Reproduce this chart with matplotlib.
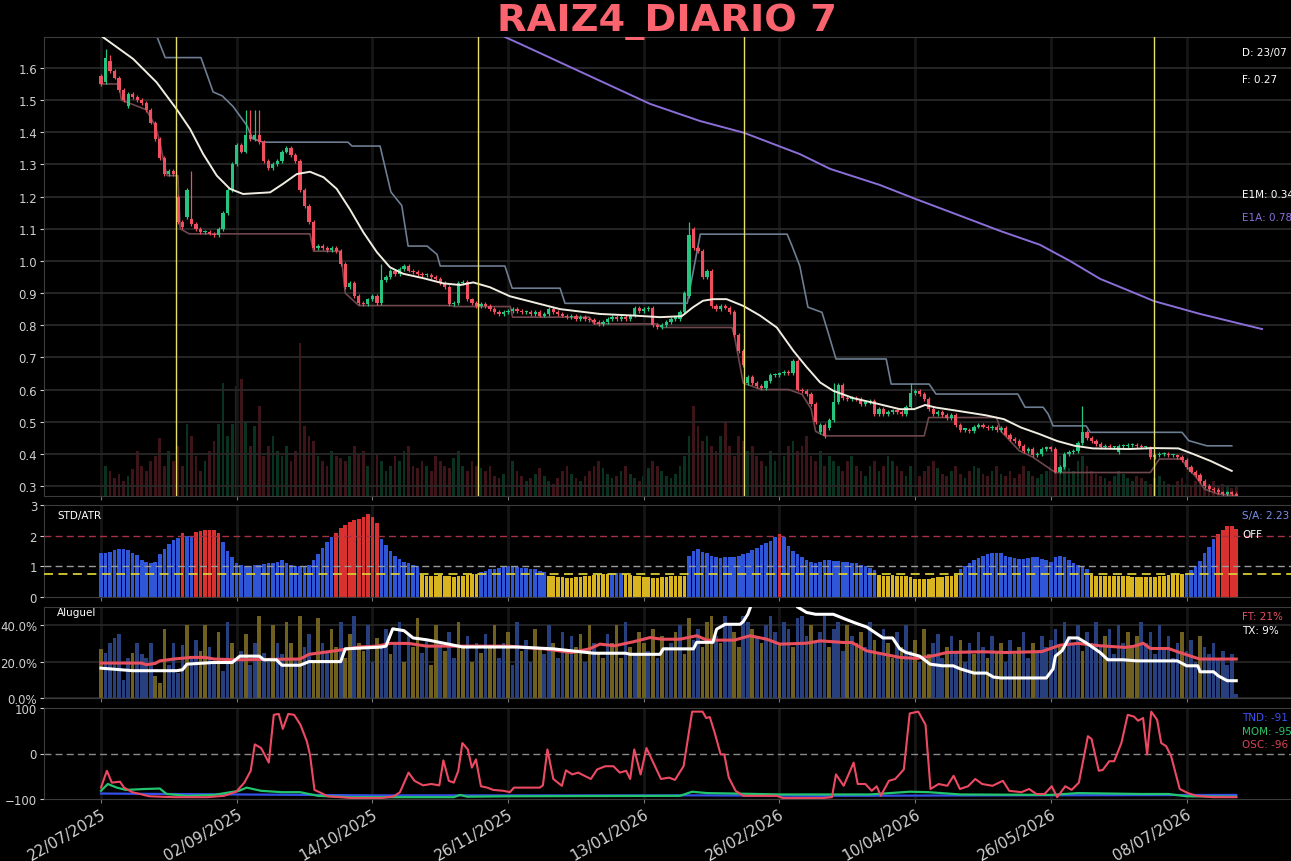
import numpy as np
import matplotlib
matplotlib.use('Agg')
import matplotlib.pyplot as plt
from matplotlib.ticker import PercentFormatter, FormatStrFormatter

# ---------------- data ----------------
date_ticks = [0, 30, 60, 90, 120, 150, 180, 210, 240]
date_labels = ['22/07/2025', '02/09/2025', '14/10/2025', '26/11/2025', '13/01/2026',
               '26/02/2026', '10/04/2026', '26/05/2026', '08/07/2026']

closes = [
    1.55, 1.63, 1.59, 1.57, 1.53, 1.50, 1.52, 1.51, 1.50, 1.49, 1.47, 1.43, 1.38, 1.32, 1.27, 1.28, 1.27,
    1.12, 1.105, 1.22, 1.115, 1.10, 1.09, 1.09, 1.085, 1.08, 1.10, 1.15, 1.22, 1.30, 1.36, 1.34, 1.39,
    1.38, 1.39, 1.37, 1.31, 1.29, 1.30, 1.31, 1.34, 1.35, 1.33, 1.31, 1.22, 1.17, 1.12, 1.04, 1.045,
    1.04, 1.035, 1.04, 1.03, 0.99, 0.92, 0.93, 0.89, 0.87, 0.865, 0.88, 0.89, 0.87, 0.94, 0.95, 0.97,
    0.96, 0.975, 0.985, 0.97, 0.965, 0.96, 0.955, 0.955, 0.95, 0.945, 0.93, 0.92, 0.865, 0.87, 0.93,
    0.935, 0.88, 0.87, 0.86, 0.865, 0.86, 0.85, 0.84, 0.835, 0.84, 0.845, 0.85, 0.845, 0.84, 0.84,
    0.835, 0.84, 0.83, 0.835, 0.85, 0.84, 0.835, 0.83, 0.825, 0.83, 0.82, 0.825, 0.82, 0.815, 0.81,
    0.805, 0.81, 0.82, 0.825, 0.82, 0.825, 0.82, 0.83, 0.855, 0.845, 0.85, 0.855, 0.80, 0.795, 0.80,
    0.81, 0.82, 0.82, 0.84, 0.90, 1.08, 1.04, 1.03, 0.95, 0.97, 0.86, 0.85, 0.86, 0.855, 0.84, 0.77,
    0.72, 0.675, 0.64, 0.62, 0.61, 0.605, 0.625, 0.645, 0.645, 0.65, 0.655, 0.65, 0.69, 0.60, 0.595,
    0.585, 0.555, 0.50, 0.49, 0.455, 0.505, 0.56, 0.615, 0.575, 0.57, 0.575, 0.57, 0.555, 0.56, 0.565,
    0.525, 0.54, 0.525, 0.53, 0.535, 0.53, 0.525, 0.545, 0.59, 0.595, 0.585, 0.57, 0.54, 0.525, 0.53,
    0.52, 0.51, 0.52, 0.49, 0.475, 0.475, 0.47, 0.485, 0.49, 0.485, 0.48, 0.485, 0.475, 0.48, 0.46,
    0.445, 0.44, 0.425, 0.41, 0.415, 0.395, 0.40, 0.415, 0.42, 0.415, 0.345, 0.36, 0.40, 0.405, 0.41,
    0.435, 0.467, 0.45, 0.44, 0.432, 0.422, 0.425, 0.42, 0.42, 0.425, 0.425, 0.428, 0.428, 0.425, 0.42,
    0.42, 0.39, 0.395, 0.40, 0.40, 0.395, 0.395, 0.39, 0.38, 0.36, 0.345, 0.335, 0.316, 0.30, 0.29,
    0.288, 0.28, 0.275, 0.28, 0.275, 0.27,
]
# opens where the bar did not open at the previous close
open_gaps = {0: 1.575, 1: 1.556, 2: 1.62, 6: 1.48, 17: 1.20, 19: 1.135, 20: 1.13, 130: 0.89,
             131: 1.10, 143: 0.62, 159: 0.467, 161: 0.48, 225: 0.405}
long_highs = {1: 1.66, 2: 1.64, 20: 1.28, 32: 1.47, 33: 1.47, 34: 1.47, 35: 1.47, 62: 0.99,
              130: 1.12, 162: 0.62, 179: 0.62, 217: 0.55}

volume = [
    20, 30, 25, 18, 22, 15, 20, 27, 45, 30, 25, 35, 40, 58, 30, 45, 35,
    50, 30, 72, 60, 40, 25, 35, 45, 55, 72, 113, 60, 72, 110, 117, 75, 50, 70, 90, 40, 50, 60, 45, 40, 50, 35, 45, 153,
    70, 60, 55, 40, 35, 30, 45, 40, 38, 35, 40, 50, 42, 45, 30, 40, 42, 35, 25, 30, 40, 35, 45, 50, 30, 28,
    35, 30, 25, 40, 35, 30, 28, 38, 45, 30, 25, 35, 30, 28,
    25, 30, 20, 18, 22, 30, 35, 25, 20, 15, 18, 22, 28, 20, 15, 12, 18, 25, 30, 22, 18, 15, 20, 25, 30, 35,
    28, 22, 18, 20, 25, 30, 22, 18, 15, 20, 28, 35, 30, 25, 20, 18, 22, 30, 40,
    60, 90, 70, 55, 60, 50, 45, 60, 75, 50, 40, 60, 55, 45, 50, 40, 35,
    30, 45, 35, 25, 40, 50, 55, 45, 50, 60, 40, 35, 45, 30, 40, 35, 30, 25, 35, 40, 30, 25, 20, 30, 35, 25,
    30, 40, 35, 30, 25, 20, 30, 25, 20, 25, 30, 35, 28, 22, 20, 25, 30, 22, 18, 25, 30, 28, 22, 20, 25, 30, 22,
    20, 25, 18, 22, 30, 25, 20, 18, 22, 25, 30, 35, 40, 30, 28, 25, 35, 40, 30, 25, 22, 20, 18, 15, 20, 25,
    22, 18, 15, 20, 18, 15, 12, 18, 20, 15, 12, 10, 15, 18, 12, 10, 15, 12, 10, 12, 15, 10, 12, 10, 8, 10,
]

# moving average (E1M) and long average (E1A), bands
ma_x = [0, 7.1, 12.3, 16.7, 19.7, 22.6, 25.6, 28.5, 31.4, 37.4, 40.3, 43.3, 46.2, 49.2, 52.1, 55, 58, 61,
        63.9, 66.8, 71.3, 75.7, 79.4, 82.3, 86, 90.4, 101.5, 110.3, 117.7, 123.6, 128.4, 130.9, 133.1,
        135.3, 138.3, 142, 145.7, 149.4, 153.1, 156, 159, 161.9, 166.4, 171.9, 176.6, 179.8, 182.2, 184.6,
        189.3, 195.6, 199.6, 203.4, 207.4, 211.4, 215.3, 219.3, 227.2, 232.7, 238.2, 241.4, 245.3, 250]
ma_y = [1.70, 1.628, 1.555, 1.472, 1.41, 1.332, 1.265, 1.224, 1.208, 1.213, 1.24, 1.27, 1.277, 1.26,
        1.224, 1.161, 1.089, 1.027, 0.98, 0.96, 0.946, 0.93, 0.925, 0.933, 0.918, 0.89, 0.85, 0.835,
        0.83, 0.825, 0.828, 0.856, 0.876, 0.881, 0.881, 0.86, 0.83, 0.793, 0.72, 0.67, 0.622, 0.596,
        0.573, 0.555, 0.539, 0.539, 0.552, 0.544, 0.534, 0.52, 0.508, 0.482, 0.462, 0.44, 0.425, 0.417,
        0.415, 0.418, 0.417, 0.40, 0.378, 0.347]
e1a_x = [84, 89.3, 92.6, 110.3, 121.4, 132.4, 142.2, 154.5, 161.2, 172.2, 180, 190, 198.8, 207.6, 214.2,
         220.9, 227.5, 232.8, 243, 256.7]
e1a_y = [1.75, 1.696, 1.675, 1.56, 1.488, 1.435, 1.398, 1.332, 1.286, 1.236, 1.193, 1.14, 1.093, 1.05,
         1.0, 0.944, 0.906, 0.875, 0.835, 0.788]
up_x = [12.4, 14.2, 22.1, 24.8, 26.8, 29.2, 32.3, 33.5, 35.9, 54.6, 55.5, 61.7, 64.1, 66.5, 67.9, 72.1,
        74.3, 75, 89.3, 90.9, 101.5, 102.6, 129.6, 132.5, 151.7, 152.8, 154.5, 156.3, 159.4, 160.7,
        162.5, 173.6, 174.7, 183.1, 184.6, 202.7, 204.3, 208.3, 209.4, 210.5, 217.8, 218.7, 239, 240.5,
        244.5, 250]
up_y = [1.696, 1.632, 1.632, 1.525, 1.513, 1.48, 1.42, 1.38, 1.369, 1.369, 1.357, 1.357, 1.214, 1.172,
        1.046, 1.046, 1.02, 0.984, 0.984, 0.915, 0.915, 0.868, 0.868, 1.083, 1.083, 1.046, 0.984, 0.856,
        0.84, 0.78, 0.695, 0.695, 0.617, 0.617, 0.586, 0.586, 0.545, 0.545, 0.524, 0.487, 0.487, 0.467,
        0.467, 0.441, 0.425, 0.425]
lo_x = [0, 4, 4.5, 10, 12, 13, 14, 14.6, 17, 17.5, 19.5, 46.2, 47, 53, 54, 57, 77.5, 78, 90.5, 91, 108,
        109, 123, 124, 139.5, 140, 142, 146, 152, 155, 157, 158, 160, 182, 183, 198, 199, 201, 203, 206,
        211, 232, 234, 239, 240, 242, 244, 247, 251]
lo_y = [1.55, 1.55, 1.50, 1.47, 1.42, 1.37, 1.30, 1.265, 1.265, 1.10, 1.084, 1.084, 1.03, 1.03, 0.90,
        0.861, 0.861, 0.858, 0.858, 0.825, 0.825, 0.804, 0.804, 0.793, 0.793, 0.77, 0.62, 0.60, 0.60,
        0.585, 0.54, 0.47, 0.456, 0.456, 0.513, 0.513, 0.47, 0.44, 0.41, 0.39, 0.342, 0.342, 0.384,
        0.384, 0.36, 0.33, 0.29, 0.275, 0.27]
event_lines = [16.6, 83.4, 142.2, 232.8]

# STD/ATR ratio
std_atr = [
    1.45, 1.45, 1.48, 1.52, 1.55, 1.55, 1.52, 1.45, 1.38, 1.2, 1.15, 1.1, 1.15, 1.4, 1.57, 1.73, 1.85,
    1.92, 2.1, 1.98, 2.0, 2.12, 2.15, 2.18, 2.2, 2.18, 2.1, 1.8, 1.5, 1.3, 1.1, 1.05, 1.02, 1.02, 1.05,
    1.05, 1.08, 1.1, 1.12, 1.15, 1.2, 1.1, 1.05, 1.0, 1.0, 1.0, 1.05, 1.2, 1.4, 1.6, 1.8, 1.95,
    2.1, 2.25, 2.35, 2.45, 2.5, 2.55, 2.6, 2.7, 2.6, 2.4,
    1.9, 1.7, 1.5, 1.35, 1.25, 1.15, 1.1, 1.05, 1.0,
    0.72, 0.7, 0.68, 0.7, 0.72, 0.7, 0.68, 0.66, 0.68, 0.7, 0.72, 0.74, 0.74,
    0.8, 0.85, 0.9, 0.92, 0.95, 0.98, 1.0, 1.0, 0.98, 0.96, 0.95, 0.92, 0.9, 0.85, 0.8,
    0.7, 0.68, 0.66, 0.64, 0.62, 0.62, 0.64, 0.66, 0.68, 0.7, 0.72, 0.74, 0.74, 0.74, 0.77, 0.78, 0.77,
    0.74, 0.72, 0.7, 0.68, 0.66, 0.65, 0.63, 0.62, 0.64, 0.66, 0.68, 0.69, 0.7, 0.7,
    1.35, 1.5, 1.55, 1.48, 1.42, 1.35, 1.3, 1.28, 1.3, 1.3, 1.32, 1.35, 1.4, 1.45, 1.52, 1.6, 1.68, 1.75,
    1.82, 1.95, 2.05, 1.95, 1.65, 1.5, 1.4, 1.3, 1.22, 1.15, 1.12, 1.15, 1.2, 1.2, 1.18, 1.18, 1.15, 1.15,
    1.12, 1.1, 1.05, 1.0, 0.95, 0.88,
    0.72, 0.7, 0.7, 0.72, 0.7, 0.68, 0.7, 0.65, 0.6, 0.6, 0.58, 0.6, 0.62, 0.64, 0.66, 0.68, 0.7, 0.72,
    0.9, 1.0, 1.1, 1.2, 1.28, 1.35, 1.4, 1.45, 1.45, 1.42, 1.35, 1.3, 1.28, 1.25, 1.25, 1.28, 1.32, 1.3,
    1.25, 1.2, 1.15, 1.3, 1.35, 1.3, 1.2, 1.1, 1.05, 1.0, 0.9,
    0.72, 0.7, 0.7, 0.69, 0.7, 0.69, 0.7, 0.7, 0.68, 0.66, 0.64, 0.64, 0.65, 0.64, 0.66, 0.68, 0.7, 0.72,
    0.74, 0.74, 0.74,
    0.76, 0.87, 1.0, 1.19, 1.44, 1.63, 1.9, 2.05, 2.2, 2.3, 2.3, 2.23,
]

# Aluguel (lending) bars, fraction, and bar colour code (y = yellow, b = blue)
aluguel = [
    0.27, 0.25, 0.30, 0.33, 0.35, 0.10, 0.22, 0.25, 0.30, 0.24, 0.22, 0.30, 0.12, 0.08, 0.38, 0.18, 0.30, 0.14, 0.29, 0.40, 0.22,
    0.32, 0.26, 0.40, 0.28, 0.20, 0.36, 0.15, 0.42, 0.30, 0.22, 0.26, 0.35, 0.18, 0.30, 0.45, 0.25, 0.20, 0.40, 0.30, 0.24, 0.42,
    0.30, 0.22, 0.45, 0.28, 0.35, 0.20, 0.44, 0.30, 0.25, 0.38, 0.28, 0.42, 0.22, 0.35, 0.45, 0.30, 0.26, 0.40, 0.20, 0.33, 0.28,
    0.38, 0.24, 0.30, 0.42, 0.20, 0.35, 0.28, 0.44, 0.25, 0.32, 0.18, 0.40, 0.30, 0.26, 0.36, 0.22, 0.42, 0.28, 0.34, 0.20, 0.30,
    0.25, 0.35, 0.28, 0.40, 0.22, 0.30, 0.36, 0.18, 0.42, 0.26, 0.32, 0.20, 0.38, 0.28, 0.24, 0.40, 0.30, 0.22, 0.36, 0.26, 0.34,
    0.28, 0.35, 0.20, 0.40, 0.30, 0.25, 0.22, 0.35, 0.30, 0.40, 0.22, 0.42, 0.28, 0.24, 0.36, 0.30, 0.26, 0.38, 0.22, 0.34, 0.28,
    0.30, 0.36, 0.40, 0.24, 0.44, 0.32, 0.38, 0.28, 0.42, 0.45, 0.34, 0.30, 0.45, 0.40, 0.36, 0.28, 0.45, 0.42, 0.38, 0.34, 0.30,
    0.40, 0.45, 0.36, 0.30, 0.42, 0.38, 0.28, 0.44, 0.45, 0.34, 0.40, 0.30, 0.36, 0.45, 0.28, 0.38, 0.42, 0.26, 0.40, 0.34, 0.30,
    0.36, 0.28, 0.42, 0.32, 0.24, 0.38, 0.30, 0.22, 0.36, 0.28, 0.40, 0.26, 0.32, 0.20, 0.38, 0.24, 0.30, 0.35, 0.22, 0.28, 0.34,
    0.26, 0.32, 0.20, 0.30, 0.24, 0.36, 0.28, 0.22, 0.34, 0.26, 0.30, 0.20, 0.32, 0.24, 0.28, 0.36, 0.22, 0.30, 0.26, 0.34, 0.28,
    0.32, 0.38, 0.28, 0.42, 0.34, 0.30, 0.40, 0.26, 0.36, 0.30, 0.42, 0.28, 0.34, 0.38, 0.24, 0.40, 0.30, 0.36, 0.28, 0.34, 0.42,
    0.30, 0.36, 0.24, 0.40, 0.28, 0.34, 0.22, 0.30, 0.36, 0.26, 0.32, 0.20, 0.34, 0.28, 0.24, 0.30, 0.22, 0.26, 0.18, 0.24, 0.02,
]
aluguel_kind = (
    'ybbbbbbybbbbyyybbbbyb'
    'byybbybbybbybbybbybby'
    'ybybbyybbyybyybyybbyb'
    'bybbybyybbyybybbyybyb'
    'ybyybbybbybbyybbybbyb'
    'yybybyybyyybybyybybyb'
    'bybyybbyyybybbyybbyby'
    'bbbybbybbbybbbybbbyby'
    'ybbybbyybybbybyybbbyb'
    'bybbybbybyybbyybbybbb'
    'bbybbbbybbbbybbbbyyyb'
    'bbbbbbbbybbbybbbbbbbb'
)

ft_x = [0, 9, 10, 12, 13, 16, 20, 23, 25, 30, 44, 46, 52, 57, 61, 64, 68, 72, 90, 98, 104, 108, 110.3,
        113.6, 116.2, 117.7, 121.4, 124, 128, 131.7, 134, 140, 143.5, 147.2, 150.1, 156, 159, 164.2, 166,
        169.3, 173, 176.6, 180.3, 184, 187, 195, 200, 208, 212, 216, 220.9, 226.4, 228.5, 230.4, 232, 236,
        238.5, 242.9, 251]
ft_y = [19.2, 19.2, 18.3, 19, 20.4, 21.4, 22.3, 22.3, 21.4, 21, 21.4, 24, 26, 28, 28.5, 30, 30, 28.5,
        28.5, 27, 25, 27, 29.6, 28.7, 30.1, 30.9, 33.2, 32.3, 32.3, 34.2, 31.8, 31.8, 34.2, 32.3, 29.6,
        30.1, 31.4, 30.5, 30.5, 25.9, 24.1, 22.3, 21.7, 23.2, 25, 25.4, 25, 25.5, 29, 30, 28.7, 27.8,
        28.5, 30.1, 27.2, 27.2, 25, 21.4, 21.4]
tx_x = [0, 7, 16.7, 18, 19, 24.8, 29, 30.7, 35, 36, 38.8, 40, 44, 46, 53, 54, 62, 63, 64.5, 67, 69, 72,
        76, 80, 92, 100, 109, 116, 117, 123.6, 124.3, 131, 131.7, 135.3, 136.1, 138, 141.3, 142, 143,
        143.9, 153.8, 154, 156, 158, 161.9, 164.9, 167, 169.3, 172.9, 175, 176.6, 178, 181, 183.3, 186,
        188.4, 190, 193, 195.8, 197.3, 199, 209, 210.5, 211, 212.5, 214, 216, 218, 220.9, 222.6, 226,
        229, 238, 240, 242.5, 243, 246, 247, 249, 251]
tx_y = [16.4, 15, 15, 15.5, 18.6, 19.5, 19.5, 23, 23, 21, 21, 18, 18, 20, 20, 27, 28, 28.5, 38, 37, 33,
        32, 30, 28, 28, 27, 24.6, 24.6, 24, 24, 27, 27, 30.6, 30.6, 37.8, 40.5, 40.5, 42, 46, 52, 52, 50,
        47, 46, 46, 43, 41, 39, 33, 33, 27, 25, 23, 18.6, 17.7, 17.7, 16, 13.7, 13.7, 11.5, 11, 11, 16,
        23, 26, 33, 33, 30, 25, 21, 21, 20.4, 20.4, 17.7, 17.7, 14.4, 14.4, 12.2, 9.5, 9.5]

osc_x = [0, 1.3, 2.4, 4.2, 5.1, 6.9, 10.7, 16.2, 23.5, 27.2, 29.9, 31.7, 33.1, 34, 35.4, 37.1, 38.2, 39.3,
         40.2, 41.4, 42.7, 44.1, 45.5, 46.2, 47.2, 48.3, 50.1, 55.6, 62, 64.8, 66.1, 68, 69.3, 71.2, 73,
         74.8, 75.7, 76.9, 78, 79, 79.9, 81.1, 82, 82.9, 84, 85.4, 86.7, 89, 90.4, 91.3, 97, 97.7, 98.7,
         100, 101.9, 102.8, 104.2, 105.5, 106.7, 108.3, 109.7, 111.5, 113.3, 114.7, 116.1, 117, 117.9,
         119.3, 120.6, 123.8, 125.6, 126.9, 128.8, 130.7, 133, 133.8, 134.6, 135.7, 137, 137.8, 138.8,
         140.3, 142, 149.4, 150.8, 159.5, 161.6, 162.5, 164.2, 166.4, 167.3, 169, 170.4, 171.5, 172.4,
         174.2, 175.6, 177.5, 178.8, 180.7, 182.3, 183.4, 185.2, 187.1, 188.5, 189.9, 191.7, 193.3,
         194.8, 197.1, 199.4, 200.8, 203.5, 205.2, 206.8, 208.6, 210.2, 211.4, 213.2, 214.6, 216.2,
         218.2, 219, 220.6, 221.5, 222.9, 224, 225.6, 227, 228.4, 229.3, 230.4, 231.3, 232.2, 233.5,
         234.4, 235.5, 236.6, 238.5, 240.3, 242.2, 245.8, 251]
osc_y = [-75, -38, -64, -62, -75, -85, -94, -96, -96, -93, -84, -64, -38, 20, 12, -20, 85, 87, 54, 87,
         85, 63, 27, -2, -80, -85, -94, -98, -98, -94, -85, -42, -60, -70, -67, -70, -15, -60, -64, -38,
         23, 9, -31, -13, -72, -75, -80, -82, -85, -75, -75, -70, 9, -56, -71, -37, -46, -42, -48, -56,
         -35, -28, -28, -42, -38, -56, 9, -46, 12, -56, -53, -58, -28, 92, 92, 78, 80, 45, -2, -2, -53,
         -82, -93, -93, -98, -98, -96, -46, -71, -20, -67, -67, -82, -72, -93, -60, -56, -35, 88, 92, 63,
         -78, -67, -71, -49, -78, -72, -56, -67, -71, -60, -82, -85, -78, -89, -89, -72, -96, -72, -80,
         -64, 38, 32, -38, -36, -17, -17, 23, 85, 81, 72, 78, -2, 92, 74, 23, 16, -6, -78, -87, -93, -96,
         -96]
mom_x = [0, 1.5, 3.5, 5.5, 9.7, 13, 14.5, 19, 25, 30.5, 32.2, 35.4, 40, 44, 48, 55, 78, 79.4, 81, 90,
         128, 130.7, 134, 140, 150, 170, 178.8, 183, 190, 210, 216, 230, 236, 240, 251]
mom_y = [-82, -67, -75, -80, -78, -77, -89, -93, -91, -82, -75, -82, -85, -85, -93, -96, -96, -91, -95,
         -94, -93, -84, -87, -88, -90, -90, -84, -85, -90, -91, -87, -89, -89, -94, -95]
tnd_x = [0, 30, 60, 130, 160, 200, 251]
tnd_y = [-88, -90, -92, -92, -93, -92, -91]

# ---------------- derived candle arrays ----------------
closes = np.array(closes)
n = len(closes)
idx = np.arange(n)
opens = np.r_[closes[0], closes[:-1]]
for k, v in open_gaps.items():
    opens[k] = v
up = closes >= opens
body_lo = np.minimum(opens, closes)
body_hi = np.maximum(opens, closes)
highs = body_hi + 0.006
lows = body_lo - 0.006
for k, v in long_highs.items():
    highs[k] = v

GREEN = '#27c47f'
RED = '#ef4f5f'
candle_col = np.where(up, GREEN, RED)

# ---------------- figure ----------------
fig = plt.figure(figsize=(12.91, 8.62), dpi=100, facecolor='black')
L = 44 / 1291
W = 1 - L
H = 862
ax1 = fig.add_axes([L, 1 - 497 / H, W, 459 / H])
ax2 = fig.add_axes([L, 1 - 598 / H, W, 92 / H], sharex=ax1)
ax3 = fig.add_axes([L, 1 - 699 / H, W, 91 / H], sharex=ax1)
ax4 = fig.add_axes([L, 1 - 800 / H, W, 91 / H], sharex=ax1)

for a in (ax1, ax2, ax3, ax4):
    a.set_facecolor('black')
    for s in a.spines.values():
        s.set_color('#3c3c3c')
    a.tick_params(colors='#d0d0d0', labelsize=8.5, length=3, pad=2)
    a.tick_params(axis='x', colors='#777777')
    for t in date_ticks:
        a.axvline(t, color='#161616', lw=2, zorder=0)

# volume behind candles
axv = ax1.twinx()
axv.set_zorder(0)
ax1.set_zorder(1)
ax1.patch.set_visible(False)
axv.bar(idx, volume, width=0.6, color=candle_col, alpha=0.26)
axv.set_ylim(0, 459)
axv.axis('off')

ax1.set_xlim(-12.6, 263.1)
ax1.set_ylim(0.269, 1.696)
ax1.set_yticks(np.arange(0.3, 1.61, 0.1))
ax1.yaxis.set_major_formatter(FormatStrFormatter('%.1f'))
ax1.grid(axis='y', color='#282828', lw=1.3)

ax1.plot(up_x, up_y, color='#6d7d92', lw=1.2, zorder=2)
ax1.plot(lo_x, lo_y, color='#6e474d', lw=1.2, zorder=2)
ax1.vlines(idx, lows, highs, color=candle_col, lw=0.9, zorder=3)
ax1.bar(idx, np.maximum(body_hi - body_lo, 0.004), bottom=body_lo, width=0.72, color=candle_col, zorder=4)
ax1.plot(ma_x, ma_y, color='#f0ede0', lw=1.4, zorder=5)
ax1.plot(e1a_x, e1a_y, color='#8b6fd9', lw=1.4, zorder=5)
for e in event_lines:
    ax1.axvline(e, color='#e6df6a', lw=1.0, zorder=6)

tx = 0.9607
ax1.text(tx, 0.967, 'D: 23/07', transform=ax1.transAxes, color='white', fontsize=7.5, va='center')
ax1.text(tx, 0.908, 'F: 0.27', transform=ax1.transAxes, color='white', fontsize=7.5, va='center')
ax1.text(tx, 0.658, 'E1M: 0.34', transform=ax1.transAxes, color='white', fontsize=7.5, va='center')
ax1.text(tx, 0.608, 'E1A: 0.78', transform=ax1.transAxes, color='#8b6fd9', fontsize=7.5, va='center')

# STD/ATR panel
std_atr = np.array(std_atr)
bar_col = np.where(std_atr > 2.0, '#d8312f', np.where(std_atr < 0.75, '#d9b421', '#2f56d6'))
ax2.bar(idx, std_atr, width=0.8, color=bar_col, zorder=2)
ax2.axhline(2, color='#a83245', lw=1, ls=(0, (5, 3)), zorder=3)
ax2.axhline(1, color='#9a9a9a', lw=1, ls=(0, (5, 3)), zorder=3)
ax2.axhline(0.75, color='#d8cc34', lw=1.3, ls=(0, (5, 3)), zorder=3)
ax2.set_ylim(0, 3)
ax2.set_yticks([0, 1, 2, 3])
ax2.text(0.0104, 0.89, 'STD/ATR', transform=ax2.transAxes, color='white', fontsize=7.5, va='center')
ax2.text(tx, 0.89, 'S/A: 2.23', transform=ax2.transAxes, color='#7d8fe6', fontsize=7.5, va='center')
ax2.text(tx, 0.68, 'OFF', transform=ax2.transAxes, color='white', fontsize=7.5, va='center')

# Aluguel panel
alu_col = ['#6f6020' if k == 'y' else '#283f7e' for k in aluguel_kind]
ax3.bar(idx, aluguel, width=0.8, color=alu_col, zorder=2)
ax3.plot(ft_x, np.array(ft_y) / 100, color='#e8505e', lw=2.2, zorder=3)
ax3.plot(tx_x, np.array(tx_y) / 100, color='white', lw=2.2, zorder=4)
ax3.set_ylim(0, 0.5)
ax3.set_yticks([0, 0.2, 0.4])
ax3.yaxis.set_major_formatter(PercentFormatter(xmax=1, decimals=1))
ax3.grid(axis='y', color='#282828', lw=1.2)
ax3.text(0.0104, 0.945, 'Aluguel', transform=ax3.transAxes, color='white', fontsize=7.5, va='center')
ax3.text(tx, 0.90, 'FT: 21%', transform=ax3.transAxes, color='#e8505e', fontsize=7.5, va='center')
ax3.text(tx, 0.75, 'TX: 9%', transform=ax3.transAxes, color='white', fontsize=7.5, va='center')

# oscillator panel
ax4.axhline(0, color='#8a8a8a', lw=1, ls=(0, (5, 3)))
ax4.plot(tnd_x, tnd_y, color='#3450e6', lw=1.6)
ax4.plot(mom_x, mom_y, color='#22c46c', lw=1.6)
ax4.plot(osc_x, osc_y, color='#ec4a62', lw=1.5)
ax4.set_ylim(-100, 100)
ax4.set_yticks([-100, 0, 100])
ax4.text(tx, 0.90, 'TND: -91', transform=ax4.transAxes, color='#3d50f0', fontsize=7.5, va='center')
ax4.text(tx, 0.75, 'MOM: -95', transform=ax4.transAxes, color='#2cc46a', fontsize=7.5, va='center')
ax4.text(tx, 0.60, 'OSC: -96', transform=ax4.transAxes, color='#d84454', fontsize=7.5, va='center')

for a in (ax1, ax2, ax3):
    plt.setp(a.get_xticklabels(), visible=False)
ax4.set_xticks(date_ticks)
ax4.set_xticklabels(date_labels, rotation=30, ha='right', rotation_mode='anchor',
                    fontsize=11, color='#d0d0d0')

fig.text(0.5167, 1 - 31 / H, 'RAIZ4_DIARIO 7', ha='center', va='baseline',
         fontsize=27.6, fontweight='bold', color='#f9646e')

fig.savefig('out.png', dpi=100, facecolor='black')
